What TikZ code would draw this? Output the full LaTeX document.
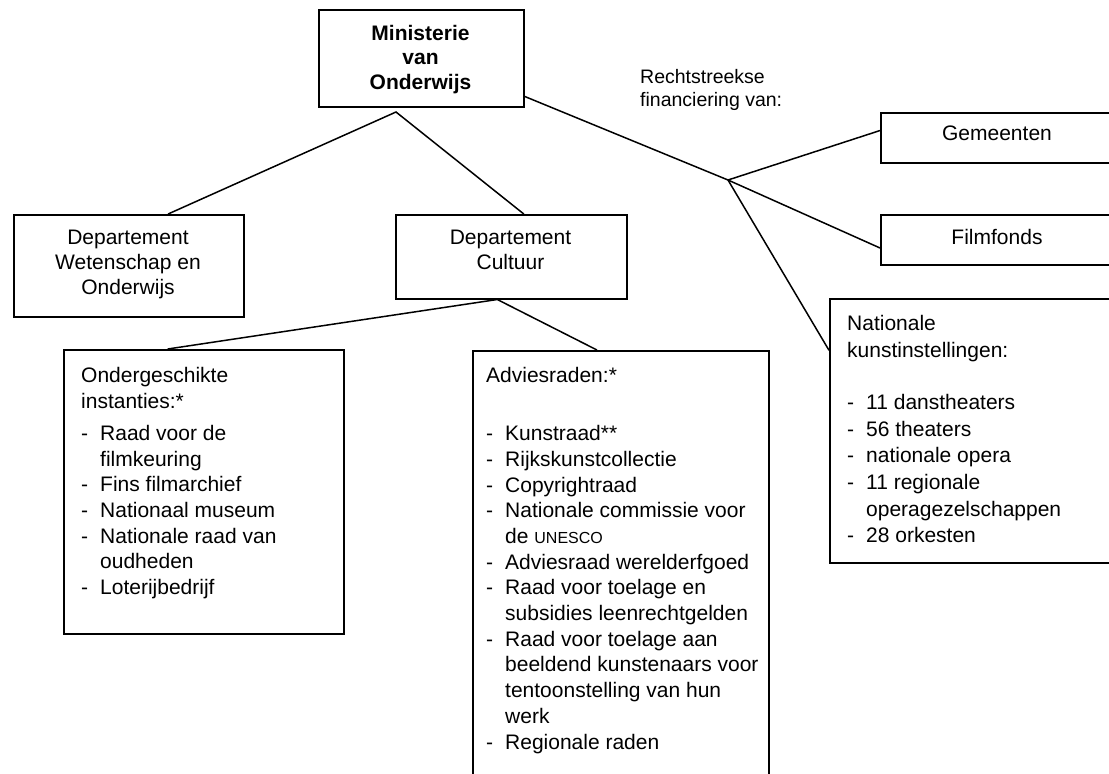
\documentclass[tikz,border=0pt]{standalone}
\usepackage{fontspec}
\setmainfont{Liberation Sans}
\usetikzlibrary{calc}
\newcommand{\dashitem}{\makebox[19pt][l]{-}}
\newcommand{\contline}{\hspace*{19pt}}
\begin{document}
\begin{tikzpicture}[x=1pt,y=-1pt,
  box/.style={draw, line width=1.5pt, inner sep=0pt, anchor=north west},
  conn/.style={line width=1.5pt},
  txt/.style={inner sep=0pt, font=\fontsize{21}{25.7}\selectfont},
  blk/.style={txt, anchor=north west, align=left}]
\useasboundingbox (0,0) rectangle (1109,774);
\clip (0,0) rectangle (1109,774);
\fill[white] (0,0) rectangle (1109,774);

% boxes
\node[box, minimum width=205pt, minimum height=97pt] (min) at (318,9) {};
\node[box, minimum width=230pt, minimum height=102pt] (wo) at (13,214) {};
\node[box, minimum width=231pt, minimum height=84pt] (cult) at (395,214) {};
\node[box, minimum width=240pt, minimum height=50pt] (gem) at (880,112) {};
\node[box, minimum width=240pt, minimum height=50pt] (film) at (880,214) {};
\node[box, minimum width=290pt, minimum height=264pt] (nat) at (829,298) {};
\node[box, minimum width=280pt, minimum height=284pt] (ond) at (63,349) {};
\node[box, minimum width=296pt, minimum height=450pt] (adv) at (472,350) {};

% texts
\node[txt, font=\bfseries\fontsize{21}{24.5}\selectfont, align=center] (mint) at (420.5,59.5) {Ministerie\\van\\Onderwijs};
\node[txt, align=center, font=\fontsize{21}{25}\selectfont] (wot) at (128,264) {Departement\\Wetenschap en\\Onderwijs};
\node[txt, align=center, font=\fontsize{21}{25}\selectfont] (cultt) at (510.5,249.5) {Departement\\Cultuur};
\node[txt] (gemt) at (997,133) {Gemeenten};
\node[txt] (filmt) at (997,237) {Filmfonds};
\node[txt, anchor=north west, align=left, font=\fontsize{19.5}{23}\selectfont] (recht) at (640,67) {\strut Rechtstreekse\\financiering van:};

\node[blk] (ondt) at (81,364.5) {\strut Ondergeschikte\\
instanties:*\\[6.3pt]
\dashitem Raad voor de\\
\contline filmkeuring\\
\dashitem Fins filmarchief\\
\dashitem Nationaal museum\\
\dashitem Nationale raad van\\
\contline oudheden\\
\dashitem Loterijbedrijf};

\node[blk] (advt) at (486,364.5) {\strut Adviesraden:*\\[32.3pt]
\dashitem Kunstraad**\\
\dashitem Rijkskunstcollectie\\
\dashitem Copyrightraad\\
\dashitem Nationale commissie voor\\
\contline de {\fontsize{16}{20}\selectfont UNESCO}\\
\dashitem Adviesraad werelderfgoed\\
\dashitem Raad voor toelage en\\
\contline subsidies leenrechtgelden\\
\dashitem Raad voor toelage aan\\
\contline beeldend kunstenaars voor\\
\contline tentoonstelling van hun\\
\contline werk\\
\dashitem Regionale raden};

\node[blk, font=\fontsize{21}{26.7}\selectfont] (natt) at (847,311.8) {\strut Nationale\\
kunstinstellingen:\\[25.3pt]
\dashitem 11 danstheaters\\
\dashitem 56 theaters\\
\dashitem nationale opera\\
\dashitem 11 regionale\\
\contline operagezelschappen\\
\dashitem 28 orkesten};

% connectors
\coordinate (apex) at (396,112);
\coordinate (junc) at (728,180);
\draw[conn] ($(wo.north west)!0.67!(wo.north east)$) -- (apex) -- ($(cult.north west)!0.554!(cult.north east)$);
\draw[conn] ($(min.north east)!0.887!(min.south east)$) -- (junc);
\draw[conn] (junc) -- ($(gem.north west)!0.36!(gem.south west)$);
\draw[conn] (junc) -- ($(film.north west)!0.66!(film.south west)$);
\draw[conn] (junc) -- ($(nat.north west)!0.197!(nat.south west)$);
\draw[conn] ($(ond.north west)!0.372!(ond.north east)$) -- ($(cult.south west)!0.44!(cult.south east)$) -- ($(adv.north west)!0.42!(adv.north east)$);
\end{tikzpicture}
\end{document}
